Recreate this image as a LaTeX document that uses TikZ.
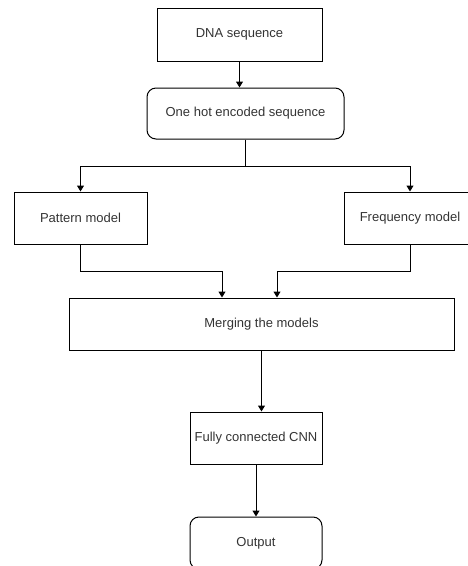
\documentclass[tikz,border=0pt]{standalone}
\usepackage{fontspec}
\setmainfont{Liberation Sans}
\usetikzlibrary{arrows.meta,calc}

\tikzset{
	box/.style = {draw, line width=1pt, inner sep=0pt, text=black!80, font=\fontsize{13}{15}\selectfont},
	roundbox/.style = {box, rounded corners=9pt},
	link/.style = {line width=1pt, -{Triangle[width=7pt,length=6pt]}}
}

\begin{document}
\begin{tikzpicture}[x=1pt,y=-1pt]
		\useasboundingbox (0,0) rectangle (467,566);
		\node[box, minimum width=165pt, minimum height=53pt] (dna) at (239.5,34.5) {DNA sequence};
		\node[roundbox, minimum width=197pt, minimum height=51pt] (hot) at (245.5,113.5) {One hot encoded sequence};
		\node[box, minimum width=133pt, minimum height=52pt] (pat) at (80.5,218) {Pattern model};
		\node[box, minimum width=132pt, minimum height=52pt] (freq) at (410,218) {Frequency model};
		\node[box, minimum width=385pt, minimum height=52pt] (merge) at (261.5,324) {Merging the models};
		\node[box, minimum width=132pt, minimum height=52pt] (fc) at (256,438) {Fully connected CNN};
		\node[roundbox, minimum width=132pt, minimum height=52pt] (out) at (256,543) {Output};
		\coordinate (split) at ($(hot.south)+(0,27)$);
		\coordinate (inl) at (222,271);
		\coordinate (inr) at (277,271);
		\draw[link] (dna.south) -- (dna.south |- hot.north);
		\draw[line width=1pt] (hot.south) -- (split);
		\draw[link] (split) -| (pat.north);
		\draw[link] (split) -| (freq.north);
		\draw[link] (pat.south) |- (inl) -- (inl |- merge.north);
		\draw[link] (freq.south) |- (inr) -- (inr |- merge.north);
		\draw[link] (merge.south) -- (merge.south |- fc.north);
		\draw[link] (fc.south) -- (out.north);
	\end{tikzpicture}
\end{document}
